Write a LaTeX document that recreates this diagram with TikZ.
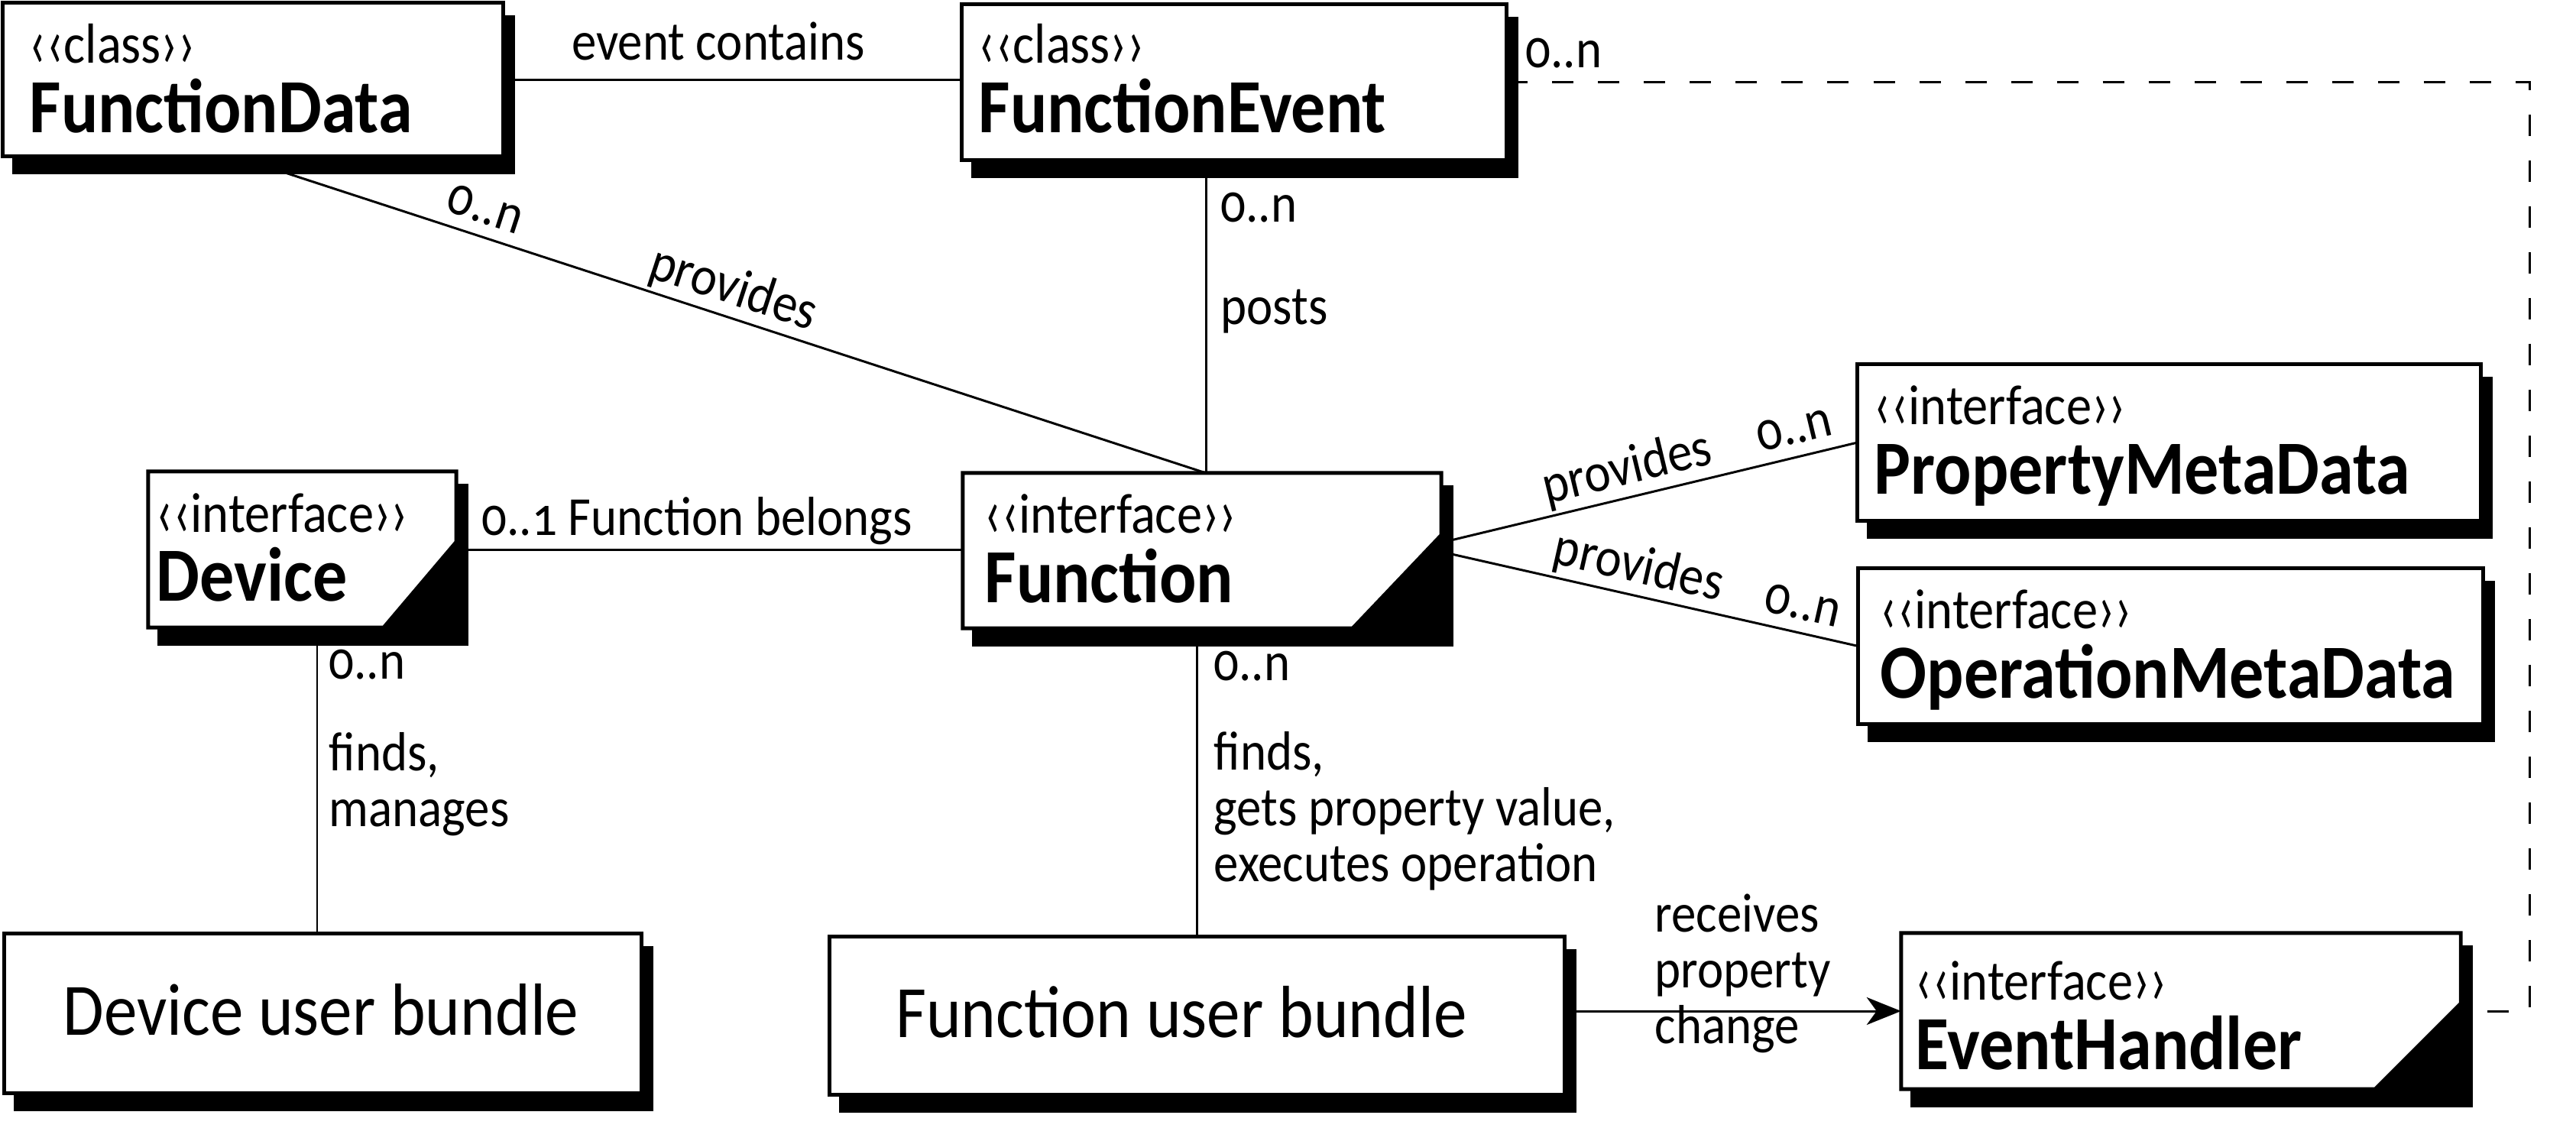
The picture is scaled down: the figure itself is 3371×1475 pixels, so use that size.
\documentclass[tikz,border=0pt]{standalone}
\usepackage{graphicx}
\usepackage{fontspec}
\setmainfont{Carlito}[FakeStretch=0.9, Numbers=OldStyle]
\usetikzlibrary{arrows.meta}
\newcommand\lgm{\raisebox{-0.08em}{\scalebox{1}[1.3]{‹}}}
\newcommand\rgm{\raisebox{-0.08em}{\scalebox{1}[1.3]{›}}}
\tikzset{
  boxnode/.style={draw=none, inner sep=0pt, outer sep=0pt, rectangle},
  frameline/.style={line width=1.4pt, fill=white, draw=black},
  shadowfill/.style={fill=black},
  conn/.style={line width=0.85pt},
  stereo/.style={anchor=base west, inner sep=0pt, font=\fontsize{21}{24}\selectfont},
  cname/.style={anchor=base west, inner sep=0pt, font=\bfseries\fontsize{28.5}{32}\selectfont},
  lbl/.style={inner sep=0pt, font=\fontsize{20.5}{20.7}\selectfont},
  slbl/.style={lbl, sloped, above=4.5pt, text depth=0pt},
  bundle/.style={anchor=base, inner sep=0pt, font=\fontsize{27.5}{30}\selectfont},
}
\newcommand\umlShadow[1]{\fill[shadowfill] ([shift={(12,16)}]#1.north west) rectangle ([shift={(16,24)}]#1.south east);}
\newcommand\umlPlain[1]{\umlShadow{#1}\filldraw[frameline] (#1.north west) rectangle (#1.south east);}
\newcommand\umlCut[3]{\umlShadow{#1}\filldraw[frameline] (#1.north west) -- (#1.north east) -- ([shift={(0,-#3)}]#1.south east) -- ([shift={(-#2,0)}]#1.south east) -- (#1.south west) -- cycle;}
\begin{document}
\begin{tikzpicture}[x=0.01cm, y=-0.01cm]
\path[use as bounding box, fill=white] (0,0) rectangle (3371,1475);
% box geometry
\node[boxnode, minimum width=6.54cm, minimum height=2.00cm] (fd) at (331,104) {};
\node[boxnode, minimum width=7.12cm, minimum height=2.03cm] (fe) at (1615,107.5) {};
\node[boxnode, minimum width=8.15cm, minimum height=2.04cm] (pmd) at (2838.5,579) {};
\node[boxnode, minimum width=8.17cm, minimum height=2.03cm] (omd) at (2840.5,845.5) {};
\node[boxnode, minimum width=4.03cm, minimum height=2.04cm] (dev) at (395.5,719) {};
\node[boxnode, minimum width=6.26cm, minimum height=2.03cm] (fn) at (1573,720.5) {};
\node[boxnode, minimum width=8.33cm, minimum height=2.08cm] (dub) at (422.5,1326) {};
\node[boxnode, minimum width=9.61cm, minimum height=2.06cm] (fub) at (1566.5,1329) {};
\node[boxnode, minimum width=7.32cm, minimum height=2.04cm] (eh) at (2854,1323) {};
% connector points
\coordinate (fdOut) at ([shift={(-25,0)}]fd.south);
\coordinate (fnTop) at ([shift={(5,0)}]fn.north);
\coordinate (devOut) at ([shift={(19.5,0)}]dev.south);
\coordinate (fnUp) at ([shift={(0,-10.5)}]fn.east);
\coordinate (fnDown) at ([shift={(0,1.5)}]fn.east);
\coordinate (dcx) at (3310,0);
% connectors
\draw[conn] (fd.east) -- (fd.east -| fe.west);
\draw[conn] (fdOut) -- node[slbl, pos=0.25] (lFdN) {0..n} node[slbl, pos=0.505] (lFdP) {provides} (fnTop);
\draw[conn] (fe.south -| fnTop) -- (fnTop);
\draw[conn] (dev.east) -- (dev.east -| fn.west);
\draw[conn] (fnUp) -- node[slbl, pos=0.462] (lPmP) {provides} node[slbl, pos=0.864] (lPmN) {0..n} (pmd.west);
\draw[conn] (fnDown) -- node[slbl, pos=0.458] (lOmP) {provides} node[slbl, pos=0.853] (lOmN) {0..n} (omd.west);
\draw[conn] (devOut) -- (devOut |- dub.north);
\draw[conn] (fub.north) -- (fub.north |- fn.south);
\draw[conn, -{Stealth[length=4.5mm, width=3.6mm, inset=1.3mm]}] (fub.east |- eh.west) -- (eh.west);
\draw[conn, dash pattern=on 0.28cm off 0.32cm] (fe.east) -- (fe.east -| dcx) -- (dcx |- eh.east) -- (eh.east);
% frames
\umlPlain{fd}
\umlPlain{fe}
\umlPlain{pmd}
\umlPlain{omd}
\umlCut{dev}{95}{112}
\umlCut{fn}{116}{122}
\umlPlain{dub}
\umlPlain{fub}
\umlCut{eh}{112}{112}
% box texts
\node[stereo] (fdS) at (38,82) {\lgm\lgm class\rgm\rgm};
\node[cname] (fdT) at (38,173) {FunctionData};
\node[stereo] (feS) at (1280,82) {\lgm\lgm class\rgm\rgm};
\node[cname] (feT) at (1280,173) {FunctionEvent};
\node[stereo] (pmdS) at (2452,555) {\lgm\lgm interface\rgm\rgm};
\node[cname] (pmdT) at (2452,646) {PropertyMetaData};
\node[stereo] (omdS) at (2460,822) {\lgm\lgm interface\rgm\rgm};
\node[cname] (omdT) at (2460,913) {OperationMetaData};
\node[stereo] (devS) at (204,696) {\lgm\lgm interface\rgm\rgm};
\node[cname] (devT) at (204,786) {Device};
\node[stereo] (fnS) at (1288,697) {\lgm\lgm interface\rgm\rgm};
\node[cname] (fnT) at (1288,788) {Function};
\node[stereo] (ehS) at (2506,1308) {\lgm\lgm interface\rgm\rgm};
\node[cname] (ehT) at (2506,1399) {EventHandler};
\node[bundle] (dubT) at (420,1354) {Device user bundle};
\node[bundle] (fubT) at (1546,1357) {Function user bundle};
% free labels (multi-line nodes: base = last line)
\node[lbl, anchor=base] (lEvent) at (940,78) {event contains};
\node[lbl, anchor=base west] (lFeN) at (1597,290) {0..n};
\node[lbl, anchor=base west] (lPosts) at (1597,424) {posts};
\node[lbl, anchor=base west] (lBel) at (630,700) {0..1 Function belongs};
\node[lbl, anchor=base west] (lDevN) at (430,888) {0..n};
\node[lbl, anchor=base west, align=left] (lDevF) at (430,1081) {finds,\\manages};
\node[lbl, anchor=base west] (lFnN) at (1588,890) {0..n};
\node[lbl, anchor=base west, align=left] (lFnF) at (1588,1153) {finds,\\gets property value,\\executes operation};
\node[lbl, anchor=base west, align=left] (lRec) at (2165,1365) {receives\\property\\change};
\node[lbl, anchor=base west] (lEhN) at (1996,88) {0..n};
\end{tikzpicture}
\end{document}
